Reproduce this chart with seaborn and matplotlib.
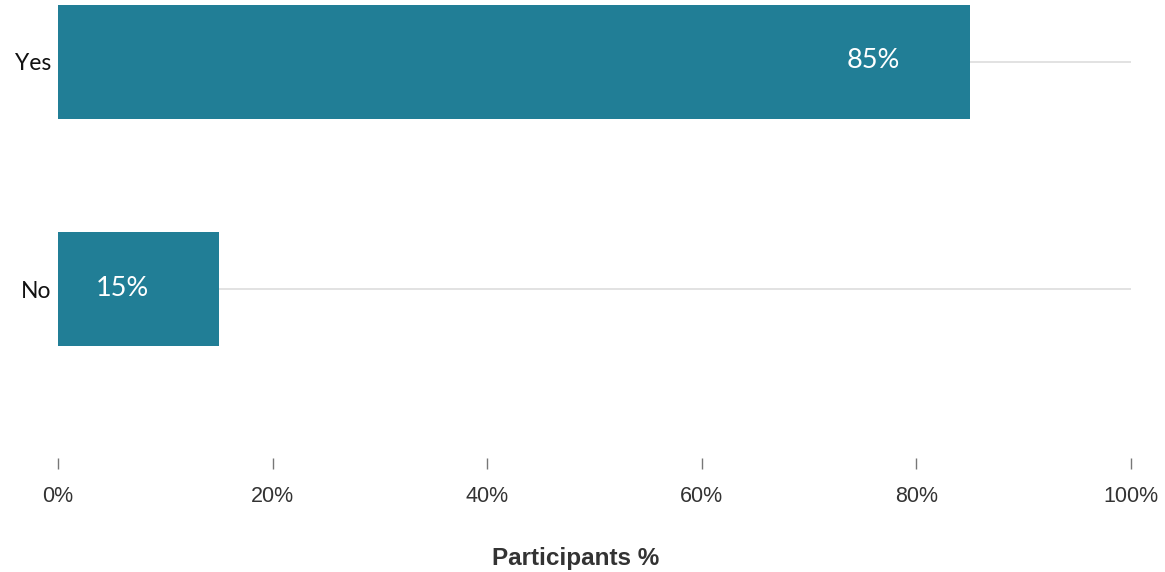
import seaborn as sns
import matplotlib.pyplot as plt
import matplotlib.ticker as mticker
import pandas as pd

# Survey answers and share of participants (%)
answers = ["Yes", "No"]
shares = [85, 15]
tick_values = [0, 20, 40, 60, 80, 100]

bar_color = "#217E96"

df = pd.DataFrame({"answer": answers, "share": shares})

sns.set_style("white")

fig = plt.figure(figsize=(11.65, 5.72), dpi=100)
ax = fig.add_axes([58 / 1165, (572 - 458) / 572, 1073 / 1165, 458 / 572])

# light gridlines at each category, drawn behind the bars
for i in range(len(answers)):
    ax.axhline(i, 0, 1, color="#dddddd", lw=1.2, zorder=0)

sns.barplot(data=df, x="share", y="answer", orient="h", color=bar_color,
            width=0.5, saturation=1, linewidth=0, ax=ax, zorder=2)

# value labels inside the bars
for i, v in enumerate(shares):
    ax.annotate(f"{v}%", xy=(v, i), xytext=(-97, 1), textcoords="offset pixels",
                ha="center", va="center", color="white", fontsize=19.5,
                family="Lato", zorder=3)

ax.set_xlim(0, 100)
ax.set_ylim(1.744, -0.273)
ax.set_xticks(tick_values)
ax.xaxis.set_major_formatter(mticker.FuncFormatter(lambda x, _: f"{x:.0f}%"))

sns.despine(ax=ax, left=True, bottom=True)
ax.tick_params(axis="x", bottom=True, direction="out", length=8, width=1,
               color="#777777", pad=12, labelsize=15.5, labelcolor="#333333")
for lbl in ax.get_xticklabels():
    lbl.set_family("Liberation Sans")
ax.tick_params(axis="y", length=0, pad=5, labelsize=16.5, labelcolor="#111111")
for lbl in ax.get_yticklabels():
    lbl.set_family("Lato")

ax.set_xlabel("Participants %", fontsize=17.5, fontweight="bold",
              family="Liberation Sans", color="#333333")
ax.xaxis.set_label_coords((576 - 58) / 1073, -(558 - 458) / 458)
ax.xaxis.label.set_va("center")
ax.set_ylabel("")

fig.savefig("out.png", dpi=100)
